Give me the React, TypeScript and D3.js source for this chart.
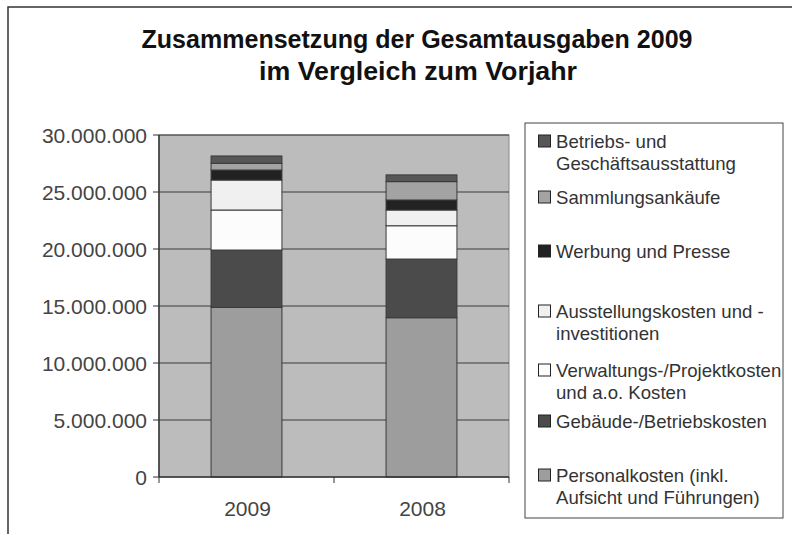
import React from "react";
import * as d3 from "d3";

const years = ["2009", "2008"];
const seriesNames = [
  "Personalkosten (inkl. Aufsicht und Führungen)",
  "Gebäude-/Betriebskosten",
  "Verwaltungs-/Projektkosten und a.o. Kosten",
  "Ausstellungskosten und -investitionen",
  "Werbung und Presse",
  "Sammlungsankäufe",
  "Betriebs- und Geschäftsausstattung",
];
const personal = [14880000, 13970000];
const gebaeude = [5030000, 5150000];
const verwaltung = [3510000, 2920000];
const ausstellung = [2630000, 1380000];
const werbung = [880000, 880000];
const sammlung = [590000, 1610000];
const betrieb = [640000, 590000];
const seriesColors = ["#9d9d9d", "#4b4b4b", "#fcfcfc", "#f0f0f0", "#222222", "#a3a3a3", "#565656"];
const yTicks = [0, 5000000, 10000000, 15000000, 20000000, 25000000, 30000000];

// legend lines, top to bottom (reverse of stack order)
const legendLines: string[][] = [
  ["Betriebs- und", "Geschäftsausstattung"],
  ["Sammlungsankäufe"],
  ["Werbung und Presse"],
  ["Ausstellungskosten und -", "investitionen"],
  ["Verwaltungs-/Projektkosten", "und a.o. Kosten"],
  ["Gebäude-/Betriebskosten"],
  ["Personalkosten (inkl.", "Aufsicht und Führungen)"],
];
const legendBaseline = [148, 204, 258, 318, 377, 428, 482];

export default function App() {
  const W = 792, H = 534;
  const plot = { x0: 159, x1: 509, y0: 135, y1: 477 };
  const values = [personal, gebaeude, verwaltung, ausstellung, werbung, sammlung, betrieb];
  const table = years.map((y, i) => {
    const row: any = { year: y };
    values.forEach((v, k) => (row["s" + k] = v[i]));
    return row;
  });
  const keys = values.map((_, k) => "s" + k);
  const stacked = d3.stack().keys(keys)(table);
  const x = d3.scaleBand().domain(years).range([plot.x0, plot.x1]).paddingInner(0).paddingOuter(0);
  const y = d3.scaleLinear().domain([0, 30000000]).range([plot.y1, plot.y0]);
  const barW = x.bandwidth() * 0.405;
  const fmt = (v: number) => d3.format(",")(v).replace(/,/g, ".");
  const font = "'Liberation Sans', Arial, sans-serif";

  return (
    <svg width={W} height={H} style={{ position: "absolute", left: 0, top: 0, background: "#fff" }} fontFamily={font}>
      <rect x={8} y={7} width={900} height={700} fill="#fff" stroke="#333" strokeWidth={1.5} />
      <text x={417} y={48} textAnchor="middle" fontWeight="bold" fontSize={25} fill="#111"
        textLength={551} lengthAdjust="spacingAndGlyphs">
        Zusammensetzung der Gesamtausgaben 2009
      </text>
      <text x={418} y={80} textAnchor="middle" fontWeight="bold" fontSize={25} fill="#111"
        textLength={318} lengthAdjust="spacingAndGlyphs">
        im Vergleich zum Vorjahr
      </text>
      <rect x={plot.x0} y={plot.y0} width={plot.x1 - plot.x0} height={plot.y1 - plot.y0} fill="#bcbcbc" stroke="#888" strokeWidth={1} />
      {yTicks.map((t) => (
        <g key={t}>
          {t > 0 && <line x1={plot.x0} x2={plot.x1} y1={y(t)} y2={y(t)} stroke="#3a3a3a" strokeWidth={1} />}
          <line x1={plot.x0 - 6} x2={plot.x0} y1={y(t)} y2={y(t)} stroke="#333" />
          <text x={147} y={y(t) + 7.5} textAnchor="end" fontSize={21} fill="#444">{fmt(t)}</text>
        </g>
      ))}
      {stacked.map((s, k) => (
        <g key={k}>
          {s.map((d, i) => (
            <rect key={i} x={x(years[i])! + (x.bandwidth() - barW) / 2} y={y(d[1])} width={barW} height={y(d[0]) - y(d[1])}
              fill={seriesColors[k]} stroke="#3a3a3a" strokeWidth={1} />
          ))}
        </g>
      ))}
      <line x1={plot.x0} x2={plot.x0} y1={plot.y0} y2={plot.y1} stroke="#333" strokeWidth={1.5} />
      <line x1={plot.x0} x2={plot.x1} y1={plot.y1} y2={plot.y1} stroke="#333" strokeWidth={1.5} />
      {[plot.x0, (plot.x0 + plot.x1) / 2, plot.x1].map((tx, i) => (
        <line key={i} x1={tx} x2={tx} y1={plot.y1} y2={plot.y1 + 6} stroke="#333" />
      ))}
      {years.map((yr) => (
        <text key={yr} x={x(yr)! + x.bandwidth() / 2 + 1} y={516} textAnchor="middle" fontSize={21} fill="#444">{yr}</text>
      ))}
      <rect x={525} y={123} width={258} height={395} fill="#fff" stroke="#444" strokeWidth={1} />
      {legendLines.map((lines, i) => {
        const k = seriesNames.length - 1 - i;
        return (
          <g key={i}>
            <rect x={538.5} y={legendBaseline[i] - 13} width={12} height={12} fill={seriesColors[k]} stroke="#222" strokeWidth={1} />
            {lines.map((ln, j) => (
              <text key={j} x={556} y={legendBaseline[i] + j * 21.5} fontSize={18.6} fill="#333">{ln}</text>
            ))}
          </g>
        );
      })}
    </svg>
  );
}
